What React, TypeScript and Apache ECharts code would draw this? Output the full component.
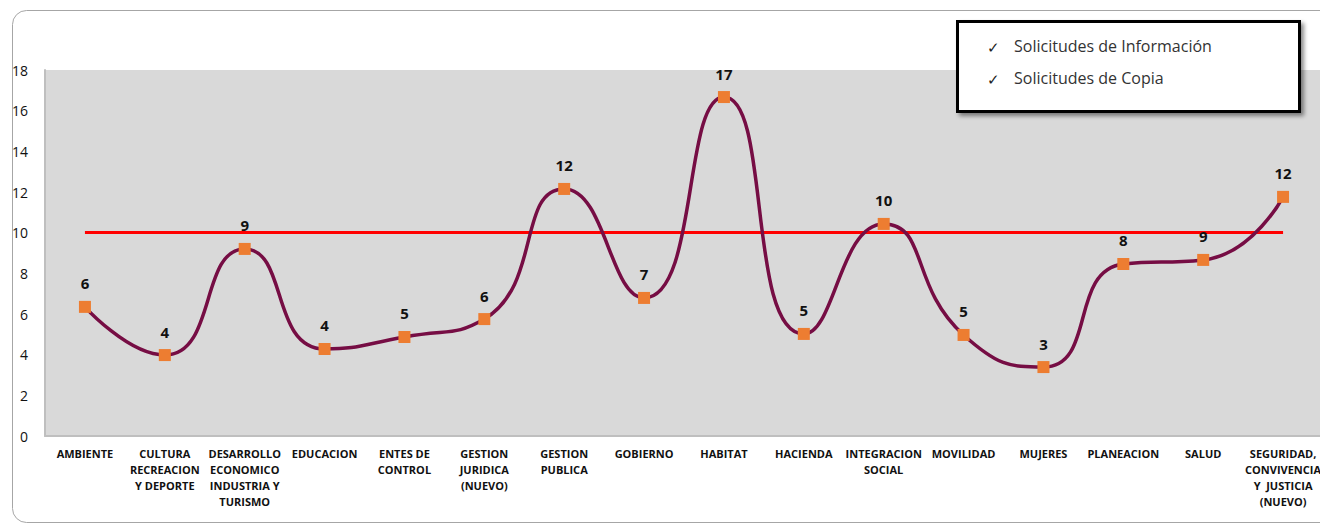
import React, { useEffect, useRef } from "react";
import * as echarts from "echarts";

const categories = [
  "AMBIENTE",
  "CULTURA\nRECREACION\nY DEPORTE",
  "DESARROLLO\nECONOMICO\nINDUSTRIA Y\nTURISMO",
  "EDUCACION",
  "ENTES DE\nCONTROL",
  "GESTION\nJURIDICA\n(NUEVO)",
  "GESTION\nPUBLICA",
  "GOBIERNO",
  "HABITAT",
  "HACIENDA",
  "INTEGRACION\nSOCIAL",
  "MOVILIDAD",
  "MUJERES",
  "PLANEACION",
  "SALUD",
  "SEGURIDAD,\nCONVIVENCIA\nY  JUSTICIA\n(NUEVO)",
];

const values = [6.35, 3.98, 9.2, 4.28, 4.87, 5.75, 12.15, 6.79, 16.67, 5.02, 10.43, 4.97, 3.39, 8.46, 8.66, 11.76];

const targetValue = 10;

const yTicks = { min: 0, max: 18, interval: 2 };

const legendItems = ["Solicitudes de Información", "Solicitudes de Copia"];

const FONT = "'Open Sans', 'Noto Sans', sans-serif";

// The plot runs slightly past the visible frame on the right, so the chart
// canvas is a little wider than the clipping viewport.
const VIEW_W = 1320;
const VIEW_H = 525;
const CHART_W = 1332;

export default function App() {
  const ref = useRef<HTMLDivElement>(null);

  useEffect(() => {
    if (!ref.current) return;
    const chart = echarts.init(ref.current, undefined, { renderer: "svg" });

    const legendGraphics: any[] = [
      {
        type: "rect",
        left: 956,
        top: 20,
        shape: { width: 342, height: 90 },
        style: {
          fill: "#ffffff",
          stroke: "#000000",
          lineWidth: 3,
          shadowBlur: 4,
          shadowOffsetX: 3,
          shadowOffsetY: 3,
          shadowColor: "rgba(0,0,0,0.45)",
        },
        z: 10,
      },
      ...legendItems.flatMap((t, i) => [
        {
          type: "text",
          left: 987,
          top: 39 + i * 32,
          style: { text: "✓", font: `15px ${FONT}`, fill: "#222222" },
          z: 11,
        },
        {
          type: "text",
          left: 1014,
          top: 38 + i * 32,
          style: { text: t, font: `16px ${FONT}`, fill: "#333333" },
          z: 11,
        },
      ]),
    ];

    chart.setOption({
      animation: false,
      backgroundColor: "#ffffff",
      grid: {
        left: 45,
        right: CHART_W - 1323,
        top: 70,
        bottom: 89,
        show: true,
        backgroundColor: "#d9d9d9",
        borderWidth: 0,
      },
      graphic: [
        {
          type: "rect",
          left: 10,
          top: 8,
          shape: { width: 1340, height: 512, r: 14 },
          style: { fill: "none", stroke: "#a6a6a6", lineWidth: 1 },
          z: -1,
        },
        ...legendGraphics,
      ],
      xAxis: {
        type: "category",
        data: categories,
        boundaryGap: true,
        axisLine: { show: true, lineStyle: { color: "#bfbfbf", width: 2 } },
        axisTick: { show: false },
        axisLabel: {
          interval: 0,
          margin: 9,
          fontFamily: FONT,
          fontSize: 11,
          fontWeight: "bold",
          color: "#111111",
          lineHeight: 16,
          align: "center",
        },
        splitLine: { show: false },
      },
      yAxis: {
        type: "value",
        min: yTicks.min,
        max: yTicks.max,
        interval: yTicks.interval,
        axisLine: { show: true, lineStyle: { color: "#bfbfbf", width: 2 } },
        axisTick: { show: false },
        splitLine: { show: false },
        axisLabel: {
          margin: 17,
          fontFamily: FONT,
          fontSize: 14,
          color: "#111111",
        },
      },
      series: [
        {
          type: "line",
          data: values,
          smooth: 0.55,
          symbol: "rect",
          symbolSize: 12,
          itemStyle: { color: "#ed7d31" },
          lineStyle: { color: "#760d44", width: 3.5 },
          label: {
            show: true,
            position: "top",
            distance: 10,
            fontFamily: FONT,
            fontSize: 15,
            fontWeight: "bold",
            color: "#111111",
            formatter: (p: any) => Math.round(p.value).toString(),
          },
          z: 3,
          markLine: {
            silent: true,
            symbol: "none",
            label: { show: false },
            lineStyle: { color: "#ff0000", width: 3, type: "solid" },
            data: [
              [
                { coord: [0, targetValue] },
                { coord: [categories.length - 1, targetValue] },
              ],
            ],
            z: 2,
          },
        },
      ],
    });

    return () => chart.dispose();
  }, []);

  return (
    <div
      style={{
        position: "fixed",
        left: 0,
        top: 0,
        width: VIEW_W,
        height: VIEW_H,
        overflow: "hidden",
      }}
    >
      <div ref={ref} style={{ width: CHART_W, height: VIEW_H }} />
    </div>
  );
}
